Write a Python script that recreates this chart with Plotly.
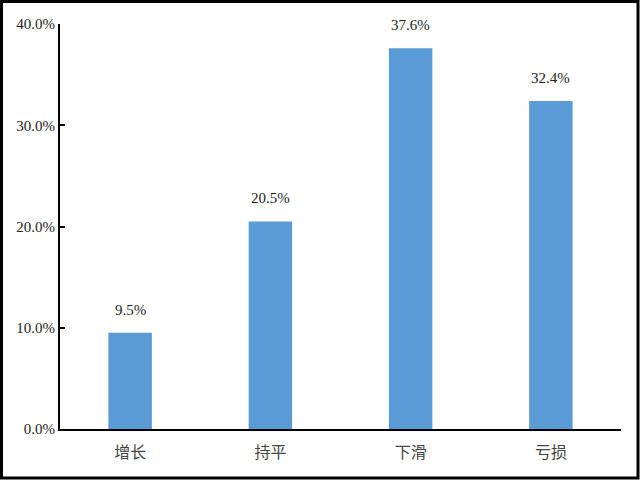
import plotly.graph_objects as go

categories = ["增长", "持平", "下滑", "亏损"]
values = [9.5, 20.5, 37.6, 32.4]
tick_vals = [0, 10, 20, 30, 40]
tick_text = [f"{t:.1f}%" for t in tick_vals]

L, R, T, B = 60, 19, 24, 51
W, H = 640, 480
pw, ph = W - L - R, H - T - B
SERIF = "Liberation Serif, Times New Roman, serif"

fig = go.Figure(go.Bar(
    x=categories, y=values, width=0.31,
    marker=dict(color="#5B9BD5", line=dict(width=0)),
    hoverinfo="skip",
))

for c, v in zip(categories, values):
    fig.add_annotation(x=c, y=v, text=f"{v:.1f}%", showarrow=False,
                       yanchor="bottom", yshift=13,
                       font=dict(family=SERIF, size=15, color="#222"))

def px(x):
    return (x - L) / pw

def py(y):
    return (H - B - y) / ph

fig.add_shape(type="rect", xref="paper", yref="paper",
              x0=px(1.5), x1=px(638), y0=py(478), y1=py(1.5),
              line=dict(color="black", width=3))

fig.update_layout(
    width=W, height=H,
    margin=dict(l=L, r=R, t=T, b=B),
    plot_bgcolor="white", paper_bgcolor="white",
    showlegend=False,
    xaxis=dict(showline=True, linecolor="black", linewidth=2, ticks="",
               ticklabelstandoff=8,
               tickfont=dict(family="Noto Sans CJK SC", size=16, color="#444"),
               range=[-0.5, 3.5]),
    yaxis=dict(range=[0, 40], tickvals=tick_vals, ticktext=tick_text,
               showline=True, linecolor="black", linewidth=2, ticks="inside",
               ticklen=5, tickcolor="black", tickwidth=2, showgrid=False, zeroline=False,
               tickfont=dict(family=SERIF, size=15, color="#222")),
)

fig.write_html("out.html", config={"displayModeBar": False},
               post_script="document.body.style.margin='0';")
